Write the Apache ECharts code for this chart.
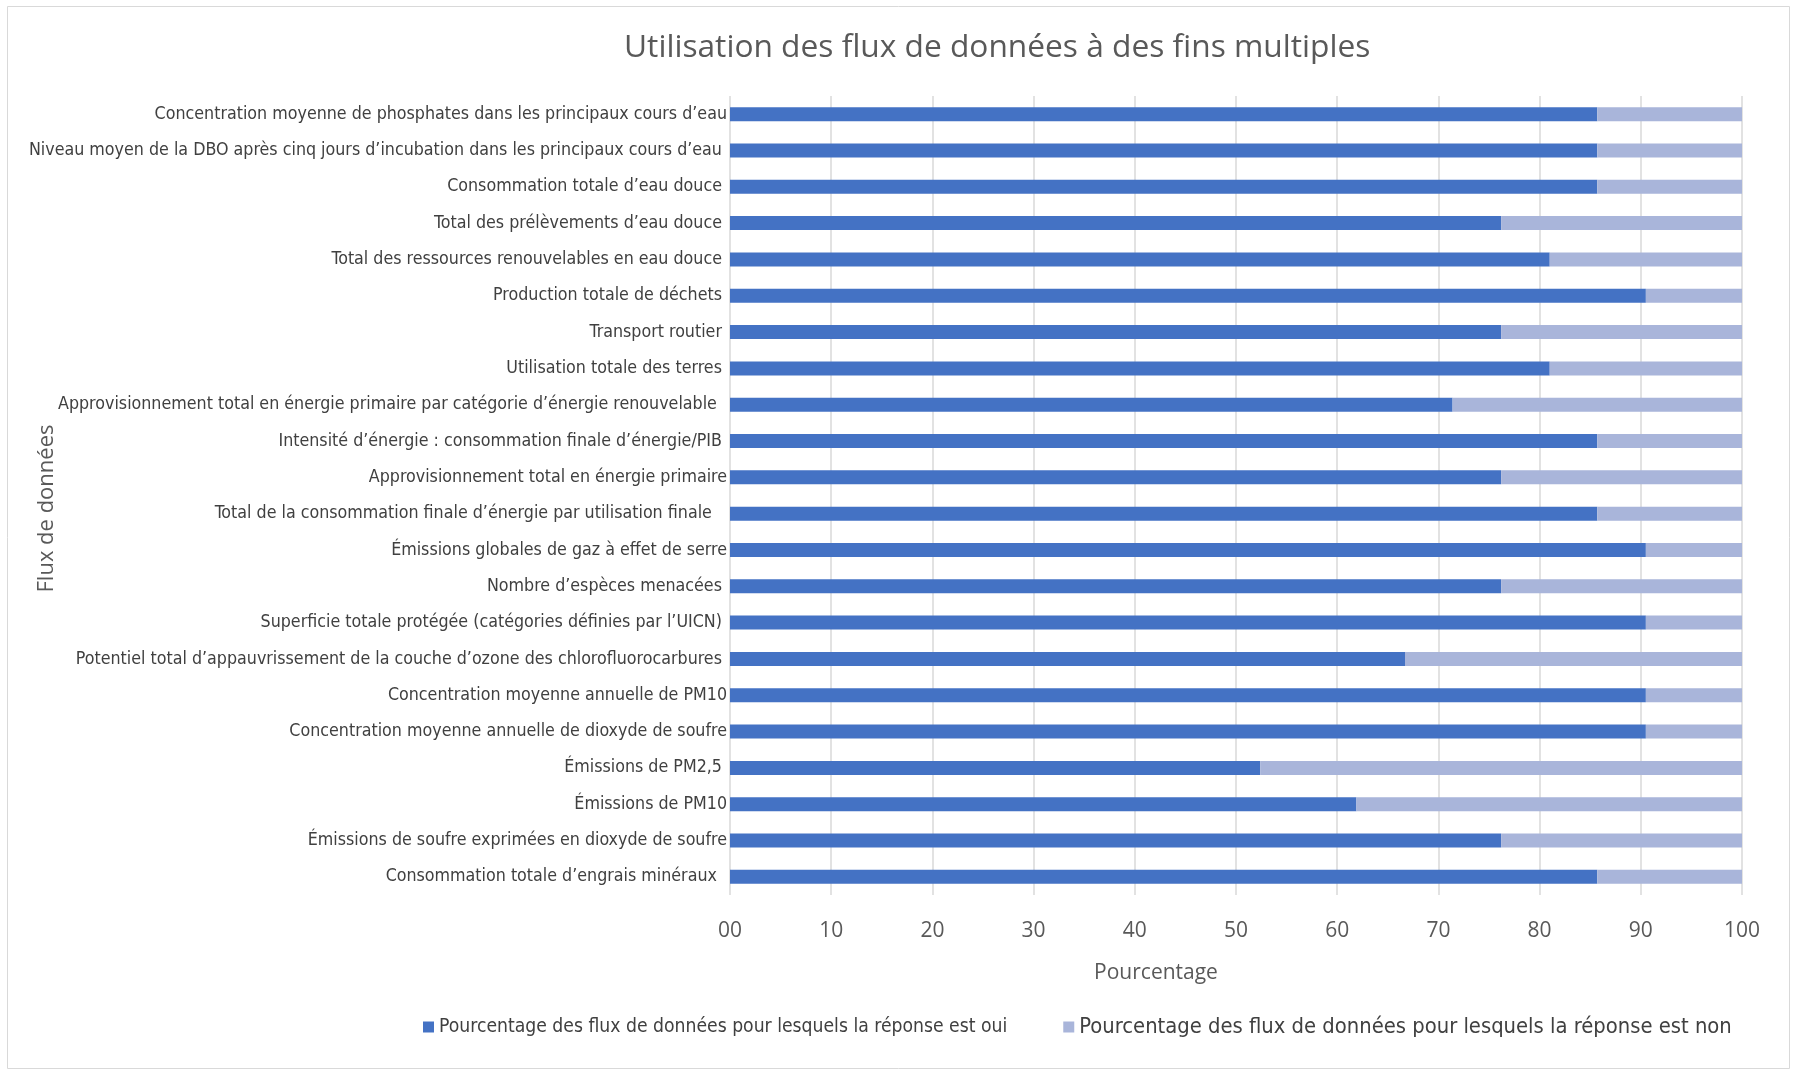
<!DOCTYPE html>
<html>
<head>
<meta charset="utf-8">
<script src="https://cdn.jsdelivr.net/npm/echarts@6/dist/echarts.min.js"></script>
<style>
  html, body { margin: 0; padding: 0; background: #fff; }
  #chart { width: 1799px; height: 1072px; }
</style>
</head>
<body>
<div id="chart"></div>
<script>
// catégories, de haut en bas
const categories = [
  "Concentration moyenne de phosphates dans les principaux cours d\u2019eau",
  "Niveau moyen de la DBO apr\u00e8s cinq jours d\u2019incubation dans les principaux cours d\u2019eau ",
  "Consommation totale d\u2019eau douce ",
  "Total des pr\u00e9l\u00e8vements d\u2019eau douce ",
  "Total des ressources renouvelables en eau douce ",
  "Production totale de d\u00e9chets ",
  "Transport routier ",
  "Utilisation totale des terres ",
  "Approvisionnement total en \u00e9nergie primaire par cat\u00e9gorie d\u2019\u00e9nergie renouvelable  ",
  "Intensit\u00e9 d\u2019\u00e9nergie : consommation finale d\u2019\u00e9nergie/PIB ",
  "Approvisionnement total en \u00e9nergie primaire",
  "Total de la consommation finale d\u2019\u00e9nergie par utilisation finale   ",
  "\u00c9missions globales de gaz \u00e0 effet de serre",
  "Nombre d\u2019esp\u00e8ces menac\u00e9es ",
  "Superficie totale prot\u00e9g\u00e9e (cat\u00e9gories d\u00e9finies par l\u2019UICN) ",
  "Potentiel total d\u2019appauvrissement de la couche d\u2019ozone des chlorofluorocarbures ",
  "Concentration moyenne annuelle de PM10",
  "Concentration moyenne annuelle de dioxyde de soufre",
  "\u00c9missions de PM2,5 ",
  "\u00c9missions de PM10",
  "\u00c9missions de soufre exprim\u00e9es en dioxyde de soufre",
  "Consommation totale d\u2019engrais min\u00e9raux  "
];

const ouiValues = [85.7, 85.7, 85.7, 76.2, 81.0, 90.5, 76.2, 81.0, 71.4, 85.7, 76.2,
                   85.7, 90.5, 76.2, 90.5, 66.7, 90.5, 90.5, 52.4, 61.9, 76.2, 85.7];
const nonValues = [14.3, 14.3, 14.3, 23.8, 19.0, 9.5, 23.8, 19.0, 28.6, 14.3, 23.8,
                   14.3, 9.5, 23.8, 9.5, 33.3, 9.5, 9.5, 47.6, 38.1, 23.8, 14.3];

const seriesNames = [
  "Pourcentage des flux de donn\u00e9es pour lesquels la r\u00e9ponse est oui",
  "Pourcentage des flux de donn\u00e9es pour lesquels la r\u00e9ponse est non"
];

const narrow = "'Liberation Sans Narrow', 'DejaVu Sans Condensed', sans-serif";

const chart = echarts.init(document.getElementById("chart"));

const option = {
  backgroundColor: "#fff",
  animation: false,
  title: {
    text: "Utilisation des flux de donn\u00e9es \u00e0 des fins multiples",
    left: 624,
    top: 32,
    padding: 0,
    textStyle: {
      fontFamily: "'Open Sans', sans-serif",
      fontWeight: "normal",
      fontSize: 31.7,
      color: "#595959"
    }
  },
  graphic: [
    {
      type: "rect",
      shape: { x: 7.5, y: 6.5, width: 1782, height: 1062 },
      style: { fill: null, stroke: "#d9d9d9", lineWidth: 1 },
      silent: true
    }
  ],
  legend: {
    left: 418,
    top: 1011,
    itemGap: 56,
    itemWidth: 11,
    itemHeight: 11,
    icon: "rect",
    textStyle: { fontFamily: narrow, fontSize: 19.2, color: "#404040" },
    data: [
      { name: seriesNames[0] },
      { name: seriesNames[1], textStyle: { fontSize: 21.8 } }
    ]
  },
  grid: {
    left: 730,
    right: 57,
    top: 96,
    bottom: 177,
    containLabel: false,
    outerBoundsMode: "none"
  },
  xAxis: {
    type: "value",
    min: 0,
    max: 100,
    interval: 10,
    name: "Pourcentage",
    nameLocation: "middle",
    nameGap: 68,
    nameMoveOverlap: false,
    nameTextStyle: {
      fontFamily: "'Open Sans', sans-serif",
      fontSize: 21,
      color: "#595959",
      padding: [0, 160, 0, 0]
    },
    axisLine: { show: false },
    axisTick: { show: false },
    axisLabel: {
      margin: 26,
      fontFamily: "'Open Sans', sans-serif",
      fontSize: 21,
      color: "#595959",
      formatter: function (v) {
        return v === 0 ? "00" : String(v);
      }
    },
    splitLine: { show: true, lineStyle: { color: "#d9d9d9", width: 1.5 } }
  },
  yAxis: {
    type: "category",
    inverse: true,
    data: categories,
    name: "Flux de donn\u00e9es",
    nameLocation: "middle",
    nameGap: 672,
    nameMoveOverlap: false,
    nameTextStyle: {
      fontFamily: "'Open Sans', sans-serif",
      fontSize: 22,
      color: "#595959",
      padding: [0, 26, 0, 0]
    },
    axisLine: { show: false },
    axisTick: { show: false },
    axisLabel: {
      margin: 3,
      fontFamily: narrow,
      fontSize: 17.7,
      color: "#404040"
    },
    splitLine: { show: false }
  },
  series: [
    {
      name: seriesNames[0],
      type: "bar",
      stack: "total",
      barWidth: 14,
      data: ouiValues,
      itemStyle: { color: "#4472c4" }
    },
    {
      name: seriesNames[1],
      type: "bar",
      stack: "total",
      barWidth: 14,
      data: nonValues,
      itemStyle: { color: "#a9b5da" }
    }
  ]
};

chart.setOption(option);
</script>
</body>
</html>
